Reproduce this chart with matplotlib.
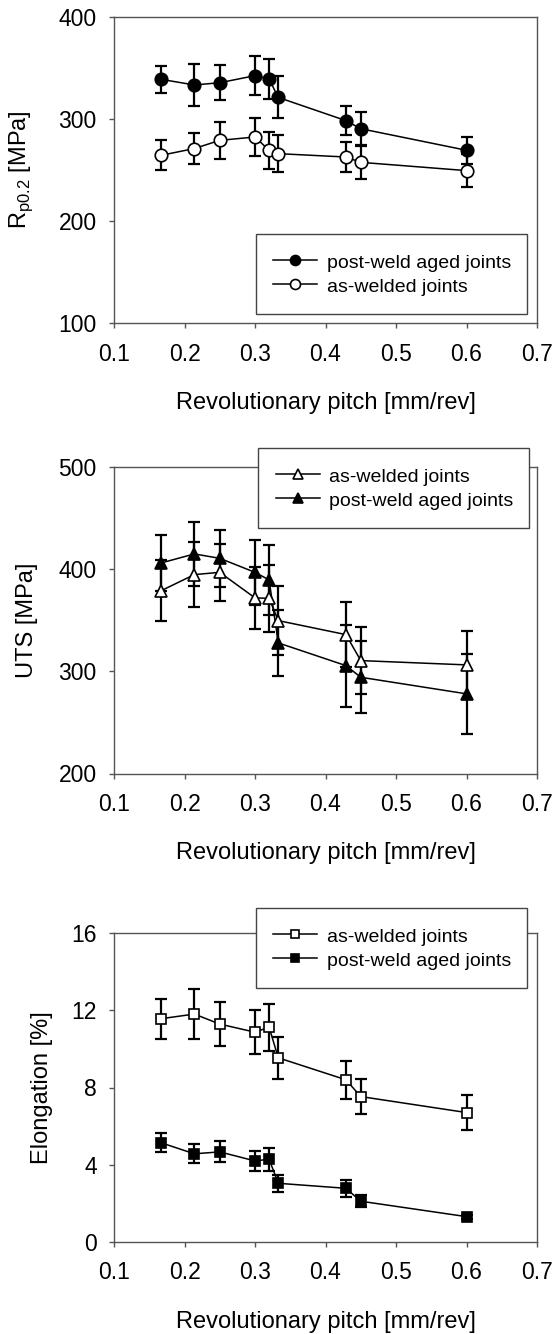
import matplotlib
matplotlib.use("Agg")
import matplotlib.pyplot as plt

plt.rcParams['font.family'] = ['Liberation Sans', 'DejaVu Sans']
plt.rcParams['mathtext.fontset'] = 'custom'
plt.rcParams['mathtext.rm'] = 'Liberation Sans'

# ---- data ----
pitch = [0.167, 0.214, 0.25, 0.30, 0.32, 0.333, 0.429, 0.45, 0.60]

rp_aged = [338.7, 333.2, 335.4, 342.3, 339.0, 321.0, 298.3, 290.4, 269.3]
rp_aged_err = [13.5, 21, 17, 19, 20, 20.5, 14, 16, 13]
rp_welded = [264.4, 271.0, 279.0, 282.3, 269.3, 266.0, 262.7, 257.5, 249.4]
rp_welded_err = [14.5, 15, 18, 19, 18, 18, 14.5, 16, 16]

uts_welded = [378.8, 394.5, 396.7, 371.7, 371.3, 349.5, 335.8, 310.4, 306.2]
uts_welded_err = [30, 32, 28, 30, 33, 34, 32, 33, 33.5]
uts_aged = [405.9, 414.7, 410.4, 396.7, 389.3, 327.7, 305.5, 294.1, 277.9]
uts_aged_err = [27, 31, 28, 31.6, 34, 32, 40, 35, 39]

el_welded = [11.57, 11.81, 11.29, 10.87, 11.13, 9.54, 8.40, 7.53, 6.70]
el_welded_err = [1.03, 1.3, 1.13, 1.13, 1.22, 1.1, 1.0, 0.93, 0.9]
el_aged = [5.13, 4.56, 4.66, 4.19, 4.28, 3.03, 2.77, 2.10, 1.30]
el_aged_err = [0.5, 0.5, 0.55, 0.54, 0.59, 0.44, 0.44, 0.3, 0.1]

xticks = [0.1, 0.2, 0.3, 0.4, 0.5, 0.6, 0.7]
xlabel = "Revolutionary pitch [mm/rev]"

W, H = 556, 1334
fig = plt.figure(figsize=(W / 100, H / 100), dpi=100)

SPINE = '#555555'
TICKFS = 16.5
LABFS = 17
LEGFS = 14


def make_ax(top, bottom, left=114, right=537):
    return fig.add_axes([left / W, 1 - bottom / H, (right - left) / W, (bottom - top) / H])


def style(ax, ylim, yticks, ylabel, label_x):
    ax.set_xlim(0.1, 0.7)
    ax.set_ylim(*ylim)
    ax.set_xticks(xticks)
    ax.set_xticklabels([f"{t:.1f}" for t in xticks])
    ax.set_yticks(yticks)
    ax.set_yticklabels([str(t) for t in yticks])
    for s in ax.spines.values():
        s.set_color(SPINE)
        s.set_linewidth(1.0)
    ax.tick_params(direction='out', length=3.5, width=1.0, color=SPINE,
                   labelsize=TICKFS, top=False, right=False)
    ax.tick_params(axis='x', pad=10.5)
    ax.tick_params(axis='y', pad=9)
    ax.set_xlabel(xlabel, fontsize=LABFS, labelpad=19)
    ax.set_ylabel(ylabel, fontsize=LABFS)
    ax.yaxis.set_label_coords((label_x - 114) / 423, 0.5)


def series(ax, y, err, marker, filled, ms, label):
    ax.errorbar(pitch, y, yerr=err, fmt='none', ecolor='black', elinewidth=1.6,
                capsize=4.3, capthick=1.6, zorder=2)
    ax.plot(pitch, y, color='black', lw=1.1, marker=marker, ms=ms,
            mfc='black' if filled else 'white', mec='black', mew=1.2,
            label=label, zorder=3)


def legend(ax, x0, y0, order):
    handles, labels = ax.get_legend_handles_labels()
    hl = dict(zip(labels, handles))
    leg = ax.legend([hl[o] for o in order], order, loc='upper left',
                    bbox_to_anchor=(x0 / W, 1 - y0 / H, 271 / W, 0.0),
                    bbox_transform=fig.transFigure, mode='expand',
                    borderaxespad=0, borderpad=0.9, labelspacing=0.18,
                    handleheight=1.2,
                    handlelength=2.27, handletextpad=0.5, numpoints=1,
                    markerscale=0.8, fancybox=False, framealpha=1,
                    edgecolor='#444444', fontsize=LEGFS)
    leg.get_frame().set_linewidth(1.0)
    leg.set_zorder(5)


# ---- top: Rp0.2 ----
ax1 = make_ax(16.7, 323.3)
series(ax1, rp_aged, rp_aged_err, 'o', True, 9, 'post-weld aged joints')
series(ax1, rp_welded, rp_welded_err, 'o', False, 9, 'as-welded joints')
style(ax1, (100, 400), [100, 200, 300, 400], r"R$_\mathregular{p0.2}$ [MPa]", 35)
legend(ax1, 255.7, 234, ['post-weld aged joints', 'as-welded joints'])

# ---- middle: UTS ----
ax2 = make_ax(466.7, 773.5)
series(ax2, uts_aged, uts_aged_err, '^', True, 9, 'post-weld aged joints')
series(ax2, uts_welded, uts_welded_err, '^', False, 9, 'as-welded joints')
style(ax2, (200, 500), [200, 300, 400, 500], "UTS [MPa]", 38)
legend(ax2, 258, 448.3, ['as-welded joints', 'post-weld aged joints'])

# ---- bottom: Elongation ----
ax3 = make_ax(933.3, 1241.7)
series(ax3, el_welded, el_welded_err, 's', False, 7.7, 'as-welded joints')
series(ax3, el_aged, el_aged_err, 's', True, 7.7, 'post-weld aged joints')
style(ax3, (0, 16), [0, 4, 8, 12, 16], "Elongation [%]", 53)
legend(ax3, 255.7, 908.3, ['as-welded joints', 'post-weld aged joints'])

fig.savefig("out.png", dpi=100, facecolor='white')
